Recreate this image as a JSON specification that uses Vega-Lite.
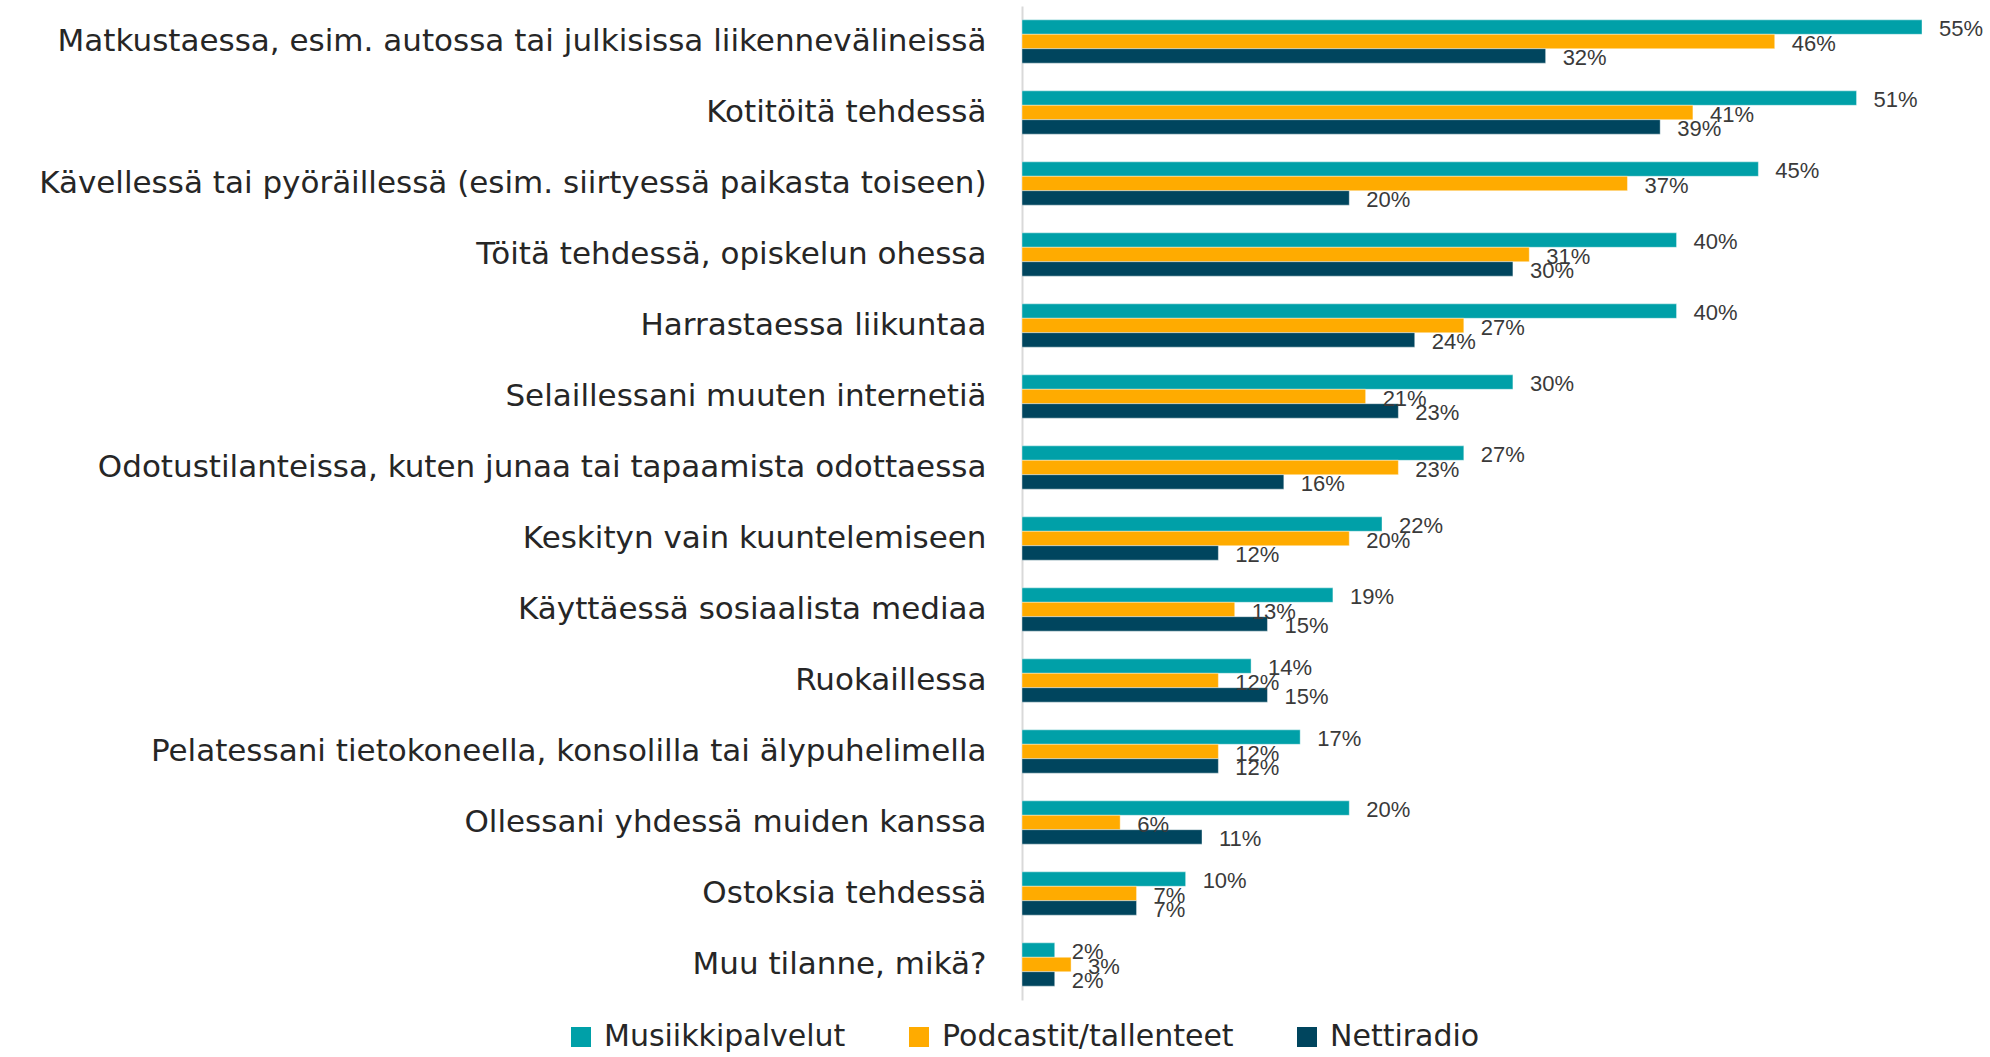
{
  "$schema": "https://vega.github.io/schema/vega-lite/v6.json",
  "autosize": "none",
  "width": 900,
  "height": 994,
  "padding": {"left": 1022, "top": 6, "right": 68, "bottom": 57},
  "background": "white",
  "config": {"view": {"stroke": null}},
  "data": {"values": [
    {"k": "Matkustaessa, esim. autossa tai julkisissa liikennevälineissä", "s": "Musiikkipalvelut", "v": 0.55},
    {"k": "Matkustaessa, esim. autossa tai julkisissa liikennevälineissä", "s": "Podcastit/tallenteet", "v": 0.46},
    {"k": "Matkustaessa, esim. autossa tai julkisissa liikennevälineissä", "s": "Nettiradio", "v": 0.32},
    {"k": "Kotitöitä tehdessä", "s": "Musiikkipalvelut", "v": 0.51},
    {"k": "Kotitöitä tehdessä", "s": "Podcastit/tallenteet", "v": 0.41},
    {"k": "Kotitöitä tehdessä", "s": "Nettiradio", "v": 0.39},
    {"k": "Kävellessä tai pyöräillessä (esim. siirtyessä paikasta toiseen)", "s": "Musiikkipalvelut", "v": 0.45},
    {"k": "Kävellessä tai pyöräillessä (esim. siirtyessä paikasta toiseen)", "s": "Podcastit/tallenteet", "v": 0.37},
    {"k": "Kävellessä tai pyöräillessä (esim. siirtyessä paikasta toiseen)", "s": "Nettiradio", "v": 0.20},
    {"k": "Töitä tehdessä, opiskelun ohessa", "s": "Musiikkipalvelut", "v": 0.40},
    {"k": "Töitä tehdessä, opiskelun ohessa", "s": "Podcastit/tallenteet", "v": 0.31},
    {"k": "Töitä tehdessä, opiskelun ohessa", "s": "Nettiradio", "v": 0.30},
    {"k": "Harrastaessa liikuntaa", "s": "Musiikkipalvelut", "v": 0.40},
    {"k": "Harrastaessa liikuntaa", "s": "Podcastit/tallenteet", "v": 0.27},
    {"k": "Harrastaessa liikuntaa", "s": "Nettiradio", "v": 0.24},
    {"k": "Selaillessani muuten internetiä", "s": "Musiikkipalvelut", "v": 0.30},
    {"k": "Selaillessani muuten internetiä", "s": "Podcastit/tallenteet", "v": 0.21},
    {"k": "Selaillessani muuten internetiä", "s": "Nettiradio", "v": 0.23},
    {"k": "Odotustilanteissa, kuten junaa tai tapaamista odottaessa", "s": "Musiikkipalvelut", "v": 0.27},
    {"k": "Odotustilanteissa, kuten junaa tai tapaamista odottaessa", "s": "Podcastit/tallenteet", "v": 0.23},
    {"k": "Odotustilanteissa, kuten junaa tai tapaamista odottaessa", "s": "Nettiradio", "v": 0.16},
    {"k": "Keskityn vain kuuntelemiseen", "s": "Musiikkipalvelut", "v": 0.22},
    {"k": "Keskityn vain kuuntelemiseen", "s": "Podcastit/tallenteet", "v": 0.20},
    {"k": "Keskityn vain kuuntelemiseen", "s": "Nettiradio", "v": 0.12},
    {"k": "Käyttäessä sosiaalista mediaa", "s": "Musiikkipalvelut", "v": 0.19},
    {"k": "Käyttäessä sosiaalista mediaa", "s": "Podcastit/tallenteet", "v": 0.13},
    {"k": "Käyttäessä sosiaalista mediaa", "s": "Nettiradio", "v": 0.15},
    {"k": "Ruokaillessa", "s": "Musiikkipalvelut", "v": 0.14},
    {"k": "Ruokaillessa", "s": "Podcastit/tallenteet", "v": 0.12},
    {"k": "Ruokaillessa", "s": "Nettiradio", "v": 0.15},
    {"k": "Pelatessani tietokoneella, konsolilla tai älypuhelimella", "s": "Musiikkipalvelut", "v": 0.17},
    {"k": "Pelatessani tietokoneella, konsolilla tai älypuhelimella", "s": "Podcastit/tallenteet", "v": 0.12},
    {"k": "Pelatessani tietokoneella, konsolilla tai älypuhelimella", "s": "Nettiradio", "v": 0.12},
    {"k": "Ollessani yhdessä muiden kanssa", "s": "Musiikkipalvelut", "v": 0.20},
    {"k": "Ollessani yhdessä muiden kanssa", "s": "Podcastit/tallenteet", "v": 0.06},
    {"k": "Ollessani yhdessä muiden kanssa", "s": "Nettiradio", "v": 0.11},
    {"k": "Ostoksia tehdessä", "s": "Musiikkipalvelut", "v": 0.10},
    {"k": "Ostoksia tehdessä", "s": "Podcastit/tallenteet", "v": 0.07},
    {"k": "Ostoksia tehdessä", "s": "Nettiradio", "v": 0.07},
    {"k": "Muu tilanne, mikä?", "s": "Musiikkipalvelut", "v": 0.02},
    {"k": "Muu tilanne, mikä?", "s": "Podcastit/tallenteet", "v": 0.03},
    {"k": "Muu tilanne, mikä?", "s": "Nettiradio", "v": 0.02}
  ]},
  "encoding": {
    "y": {
      "field": "k", "type": "nominal", "sort": null,
      "scale": {"paddingInner": 0.39, "paddingOuter": 0.195},
      "axis": {"title": null, "ticks": false, "domainColor": "#d9d9d9", "domainWidth": 2, "labelFont": "DejaVu Sans", "labelFontSize": 31, "labelColor": "#262626", "labelPadding": 36, "labelLimit": 1100, "grid": false}
    },
    "yOffset": {"field": "s", "type": "nominal", "sort": ["Musiikkipalvelut", "Podcastit/tallenteet", "Nettiradio"], "scale": {"paddingInner": 0, "paddingOuter": 0}},
    "x": {"field": "v", "type": "quantitative", "scale": {"domain": [0, 0.55], "nice": false, "zero": true}, "axis": null}
  },
  "layer": [
    {
      "mark": {"type": "bar", "stroke": "#ffffff", "strokeWidth": 0.8, "strokeOpacity": 0.5},
      "encoding": {
        "color": {
          "field": "s", "type": "nominal",
          "scale": {"domain": ["Musiikkipalvelut", "Podcastit/tallenteet", "Nettiradio"], "range": ["#00A0A8", "#FFAB00", "#00455E"]},
          "legend": {"title": null, "orient": "none", "direction": "horizontal", "legendX": -456, "legendY": 1016, "symbolType": "square", "symbolSize": 400, "symbolStrokeWidth": 0, "symbolOpacity": 1, "labelFont": "DejaVu Sans", "labelFontSize": 30, "labelColor": "#262626", "labelOffset": 8, "columnPadding": 58, "labelLimit": 500}
        }
      }
    },
    {
      "mark": {"type": "text", "align": "left", "baseline": "middle", "dx": 17, "dy": 2, "font": "Liberation Sans", "fontSize": 22, "color": "#3a3a3a"},
      "encoding": {"text": {"field": "v", "type": "quantitative", "format": ".0%"}}
    }
  ]
}
